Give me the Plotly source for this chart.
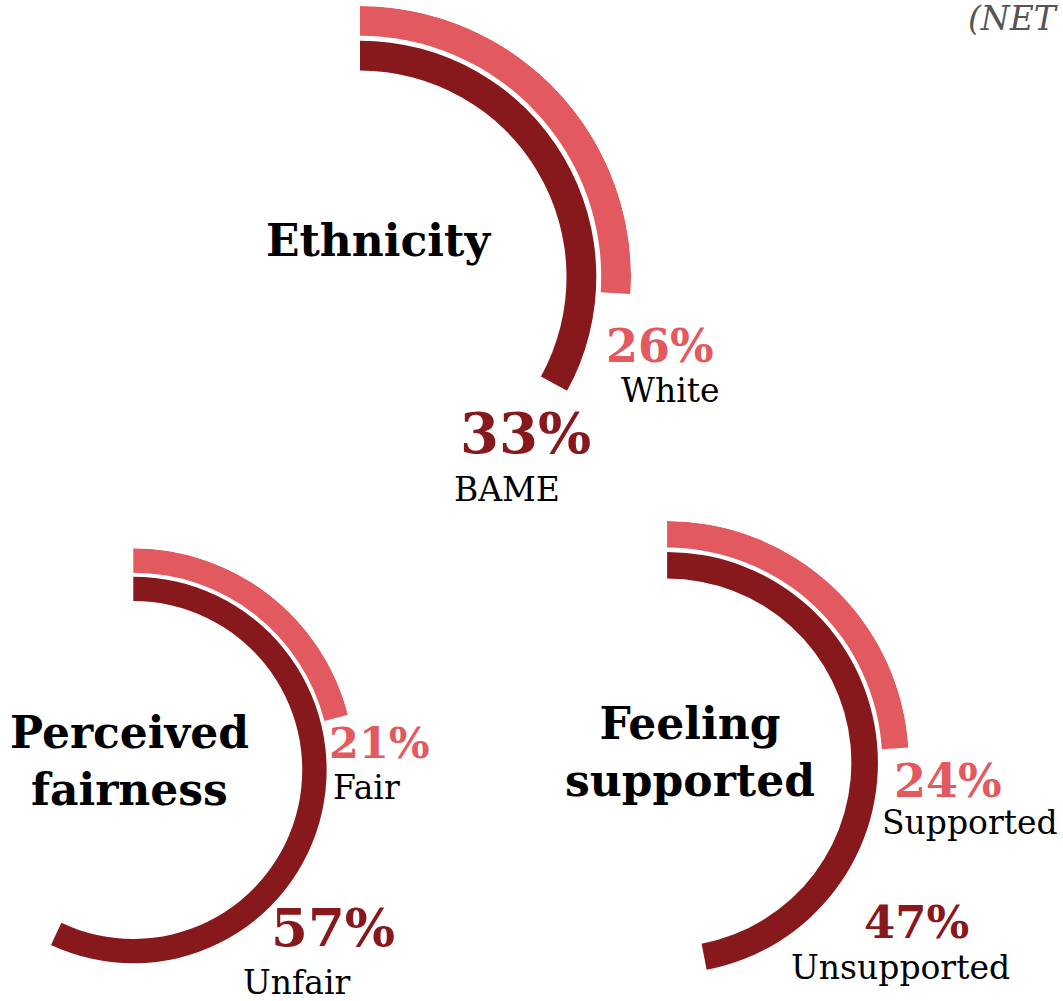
import math
import plotly.graph_objects as go

W, H = 1063, 1001

# --- data -------------------------------------------------------------
titles = ["Ethnicity", "Perceived<br>fairness", "Feeling<br>supported"]
outer_labels = ["White", "Fair", "Supported"]
outer_values = [26, 21, 24]
inner_labels = ["BAME", "Unfair", "Unsupported"]
inner_values = [33, 57, 47]

LIGHT = "#E2595F"
DARK = "#87181C"
FONT = "DejaVu Serif"

# --- layout of the three ring gauges (pixel space) ---------------------
# centre, outer radius, and where each text block sits
charts = [
    dict(cx=360, cy=277, R=271,
         title=(378, 241), outer_pct=(660, 346, 46), outer_lab=(670, 390),
         inner_pct=(525, 433, 56), inner_lab=(507, 489)),
    dict(cx=133.3, cy=770, R=221.7,
         title=(129, 761), outer_pct=(379, 743, 43), outer_lab=(366, 787),
         inner_pct=(333, 927, 53), inner_lab=(297, 982)),
    dict(cx=667, cy=763, R=242,
         title=(690, 752), outer_pct=(948, 781, 46), outer_lab=(970, 822),
         inner_pct=(916, 922, 45), inner_lab=(900, 967)),
]

RING = 0.11   # ring thickness as a share of the outer radius
GAP = 0.018   # white gap between the two rings


def sector_bbox(s0, s1):
    """Bounding box of a polar sector on the unit circle (incl. origin)."""
    arc = s1 - s0
    a0 = s0 % 360
    a1 = a0 + arc
    c = lambda a: math.cos(math.radians(a))
    s = lambda a: math.sin(math.radians(a))
    ax0, ay0, ax1, ay1 = c(a0), s(a0), c(a1), s(a1)
    if (a0 <= 90 and a1 >= 90) or (a0 > 90 and a1 >= 450):
        y1 = 1
    elif ay0 <= 0 and ay1 <= 0:
        y1 = 0
    else:
        y1 = max(ay0, ay1)
    if (a0 <= 180 and a1 >= 180) or (a0 > 180 and a1 >= 540):
        x0 = -1
    elif ax0 >= 0 and ax1 >= 0:
        x0 = 0
    else:
        x0 = min(ax0, ax1)
    if (a0 <= 270 and a1 >= 270) or (a0 > 270 and a1 >= 630):
        y0 = -1
    elif ay0 >= 0 and ay1 >= 0:
        y0 = 0
    else:
        y0 = min(ay0, ay1)
    if (a0 <= 0 and a1 >= 0) or (a0 > 0 and a1 >= 360):
        x1 = 1
    elif ax0 <= 0 and ax1 <= 0:
        x1 = 0
    else:
        x1 = max(ax0, ax1)
    return x0, y0, x1, y1


def clamp(v):
    return min(1.0, max(0.0, v))


def px(x, y):
    return x / W, 1 - y / H


fig = go.Figure()
annotations = []
layout_polars = {}

for i, ch in enumerate(charts):
    name = "polar" if i == 0 else f"polar{i + 1}"
    ov, iv = outer_values[i], inner_values[i]
    span = max(ov, iv) * 3.6
    sector = [90 - span - 1, 91]
    bx0, by0, bx1, by1 = sector_bbox(*sector)
    cx, cy, R = ch["cx"], ch["cy"], ch["R"]
    dom_x = [clamp((cx + R * bx0) / W), clamp((cx + R * bx1) / W)]
    dom_y = [clamp(1 - (cy - R * by0) / H), clamp(1 - (cy - R * by1) / H)]

    layout_polars[name] = dict(
        domain=dict(x=dom_x, y=dom_y),
        sector=sector,
        hole=0,
        bgcolor="rgba(0,0,0,0)",
        radialaxis=dict(visible=False, range=[0, 1], showgrid=False,
                        showline=False, showticklabels=False, ticks=""),
        angularaxis=dict(visible=False, rotation=90, direction="clockwise",
                         showgrid=False, showline=False,
                         showticklabels=False, ticks=""),
    )

    fig.add_trace(go.Barpolar(
        subplot=name,
        theta=[ov * 3.6 / 2, iv * 3.6 / 2],
        width=[ov * 3.6, iv * 3.6],
        r=[RING, RING],
        base=[1 - RING, 1 - 2 * RING - GAP],
        marker=dict(color=[LIGHT, DARK], line=dict(width=0)),
        hoverinfo="skip",
        showlegend=False,
    ))

    def add(text, pos, size, color, weight="normal"):
        x, y = px(pos[0], pos[1])
        annotations.append(dict(
            text=text, x=x, y=y, xref="paper", yref="paper",
            xanchor="center", yanchor="middle", showarrow=False,
            font=dict(family=FONT, size=size, color=color, weight=weight),
        ))

    add(titles[i], ch["title"], 44, "#000000", "bold")
    add(f"{ov}%", ch["outer_pct"][:2], ch["outer_pct"][2], LIGHT, "bold")
    add(outer_labels[i], ch["outer_lab"], 33, "#000000")
    add(f"{iv}%", ch["inner_pct"][:2], ch["inner_pct"][2], DARK, "bold")
    add(inner_labels[i], ch["inner_lab"], 33, "#000000")

# caption in the top-right corner
nx, ny = px(1061, 18)
annotations.append(dict(
    text="(NET", x=nx, y=ny, xref="paper", yref="paper",
    xanchor="right", yanchor="middle", showarrow=False,
    font=dict(family=FONT, size=33, color="#555555", style="italic"),
))

fig.update_layout(
    width=W, height=H,
    margin=dict(l=0, r=0, t=0, b=0),
    paper_bgcolor="white",
    plot_bgcolor="white",
    showlegend=False,
    annotations=annotations,
    **layout_polars,
)

fig.write_html("out.html")
